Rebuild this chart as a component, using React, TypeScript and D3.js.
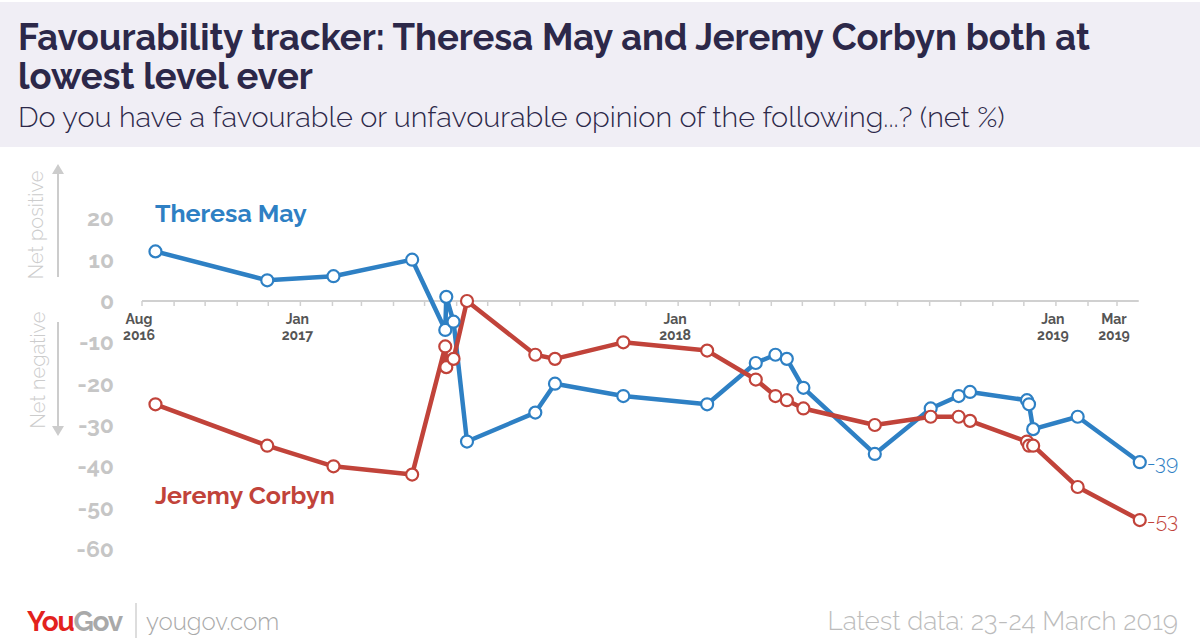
import { useEffect, useRef } from 'react';
import * as d3 from 'd3';

// survey dates (fieldwork end), shared by both series
const dates = [
  '2016-08-14', '2016-11-30', '2017-02-02', '2017-04-19', '2017-05-21',
  '2017-05-22', '2017-05-29', '2017-06-11', '2017-08-16', '2017-09-04',
  '2017-11-09', '2018-01-29', '2018-03-17', '2018-04-05', '2018-04-16',
  '2018-05-02', '2018-07-10', '2018-09-02', '2018-09-29', '2018-10-10',
  '2018-12-04', '2018-12-06', '2018-12-10', '2019-01-22', '2019-03-23',
];

const mayValues = [
  12, 5, 6, 10, -7, 1, -5, -34, -27, -20, -23, -25, -15, -13, -14, -21, -37, -26, -23, -22, -24,
  -25, -31, -28, -39,
];

const corbynValues = [
  -25, -35, -40, -42, -11, -16, -14, 0, -13, -14, -10, -12, -19, -23, -24, -26, -30, -28, -28, -29,
  -34, -35, -35, -45, -53,
];

const yTicks = [20, 10, 0, -10, -20, -30, -40, -50, -60];

const xLabels = [
  { date: '2016-08-01', month: 'Aug', year: '2016' },
  { date: '2017-01-01', month: 'Jan', year: '2017' },
  { date: '2018-01-01', month: 'Jan', year: '2018' },
  { date: '2019-01-01', month: 'Jan', year: '2019' },
  { date: '2019-03-01', month: 'Mar', year: '2019' },
];

const series = [
  { name: 'Theresa May', values: mayValues, color: '#2e80c4' },
  { name: 'Jeremy Corbyn', values: corbynValues, color: '#c1433a' },
];

const FONT = 'Raleway, Lato, "Open Sans", sans-serif';

export default function App() {
  const svgRef = useRef<SVGSVGElement>(null);

  useEffect(() => {
    document.body.style.margin = '0';
    if (!svgRef.current) return;
    const svg = d3.select(svgRef.current);
    svg.selectAll('*').remove();

    const parse = d3.timeParse('%Y-%m-%d');
    const xs = dates.map((d) => parse(d) as Date);

    const x = d3
      .scaleTime()
      .domain([parse('2016-08-01') as Date, parse('2019-03-01') as Date])
      .range([142, 1117]);
    const y = d3.scaleLinear().domain([0, -60]).range([301, 549]);

    // header band
    svg.append('rect').attr('x', 0).attr('y', 2).attr('width', 1200).attr('height', 145).attr('fill', '#f0eef5');
    const title = svg
      .append('text')
      .attr('font-family', FONT)
      .attr('font-weight', 700)
      .attr('font-size', 36.4)
      .attr('fill', '#2c2849');
    title.append('tspan').attr('x', 18).attr('y', 50).text('Favourability tracker: Theresa May and Jeremy Corbyn both at');
    title.append('tspan').attr('x', 18).attr('y', 89).text('lowest level ever');
    svg
      .append('text')
      .attr('x', 18)
      .attr('y', 127)
      .attr('font-family', FONT)
      .attr('font-weight', 300)
      .attr('font-size', 28.9)
      .attr('fill', '#2c2849')
      .text('Do you have a favourable or unfavourable opinion of the following...? (net %)');

    // side labels with arrows
    const side = svg.append('g').attr('fill', '#cccccc').attr('font-family', FONT).attr('font-weight', 300).attr('font-size', 20);
    side
      .append('text')
      .attr('transform', 'translate(43,225) rotate(-90)')
      .attr('text-anchor', 'middle')
      .text('Net positive');
    side
      .append('text')
      .attr('transform', 'translate(45,370) rotate(-90)')
      .attr('text-anchor', 'middle')
      .text('Net negative');
    svg.append('line').attr('x1', 58).attr('x2', 58).attr('y1', 277).attr('y2', 172).attr('stroke', '#cccccc').attr('stroke-width', 2);
    svg.append('path').attr('d', 'M52,174 L58,164 L64,174 Z').attr('fill', '#cccccc');
    svg.append('line').attr('x1', 58).attr('x2', 58).attr('y1', 322).attr('y2', 428).attr('stroke', '#cccccc').attr('stroke-width', 2);
    svg.append('path').attr('d', 'M52,426 L58,436 L64,426 Z').attr('fill', '#cccccc');

    // y labels
    svg
      .append('g')
      .selectAll('text')
      .data(yTicks)
      .join('text')
      .attr('x', 114)
      .attr('y', (d) => y(d))
      .attr('dy', '0.35em')
      .attr('text-anchor', 'end')
      .attr('font-family', FONT)
      .attr('font-weight', 700)
      .attr('font-size', 23)
      .attr('fill', '#c6c6c6')
      .text((d) => d);

    // zero axis with monthly ticks
    const axisEnd = parse('2019-03-22') as Date;
    const axis = svg.append('g').attr('transform', `translate(0,${y(0)})`);
    axis
      .append('line')
      .attr('x1', x(x.domain()[0]))
      .attr('x2', x(axisEnd))
      .attr('stroke', '#d0d0d0')
      .attr('stroke-width', 2);
    axis
      .selectAll('line.tick')
      .data(d3.timeMonth.range(x.domain()[0], axisEnd))
      .join('line')
      .attr('class', 'tick')
      .attr('x1', (d) => x(d))
      .attr('x2', (d) => x(d))
      .attr('y1', 0)
      .attr('y2', 5)
      .attr('stroke', '#d0d0d0')
      .attr('stroke-width', 1.5);

    const labStyle = (sel: d3.Selection<SVGTextElement, any, any, any>) =>
      sel
        .attr('text-anchor', 'middle')
        .attr('font-family', FONT)
        .attr('font-weight', 700)
        .attr('font-size', 14)
        .attr('fill', '#555555');
    axis
      .selectAll('text.month')
      .data(xLabels)
      .join('text')
      .attr('class', 'month')
      .attr('x', (d) => x(parse(d.date) as Date) - 3)
      .attr('y', 23)
      .call(labStyle)
      .text((d) => d.month);
    axis
      .selectAll('text.year')
      .data(xLabels)
      .join('text')
      .attr('class', 'year')
      .attr('x', (d) => x(parse(d.date) as Date) - 3)
      .attr('y', 39)
      .call(labStyle)
      .text((d) => d.year);

    // series lines
    const line = d3
      .line<number>()
      .x((_, i) => x(xs[i]))
      .y((d) => y(d));

    series.forEach((s) => {
      svg
        .append('path')
        .datum(s.values)
        .attr('d', line)
        .attr('fill', 'none')
        .attr('stroke', s.color)
        .attr('stroke-width', 4.5)
        .attr('stroke-linejoin', 'round');
    });
    series.forEach((s) => {
      svg
        .append('g')
        .selectAll('circle')
        .data(s.values)
        .join('circle')
        .attr('cx', (_, i) => x(xs[i]))
        .attr('cy', (d) => y(d))
        .attr('r', 6)
        .attr('fill', '#ffffff')
        .attr('stroke', s.color)
        .attr('stroke-width', 2.2);
      const last = s.values.length - 1;
      svg
        .append('text')
        .attr('x', x(xs[last]) + 7)
        .attr('y', y(s.values[last]))
        .attr('dy', '0.36em')
        .attr('font-family', FONT)
        .attr('font-weight', 300)
        .attr('font-size', 21)
        .attr('fill', s.color)
        .text(s.values[last]);
    });

    // series names
    svg
      .append('text')
      .attr('x', 155)
      .attr('y', 222)
      .attr('font-family', FONT)
      .attr('font-weight', 700)
      .attr('font-size', 25)
      .attr('fill', series[0].color)
      .text(series[0].name);
    svg
      .append('text')
      .attr('x', 155)
      .attr('y', 504)
      .attr('font-family', FONT)
      .attr('font-weight', 700)
      .attr('font-size', 25)
      .attr('fill', series[1].color)
      .text(series[1].name);

    // footer
    const logo = svg
      .append('text')
      .attr('x', 27)
      .attr('y', 631)
      .attr('font-family', FONT)
      .attr('font-weight', 700)
      .attr('font-size', 28)
      .attr('letter-spacing', -1.2);
    logo.append('tspan').attr('fill', '#e3221d').text('You');
    logo.append('tspan').attr('fill', '#a9a9a9').text('Gov');
    svg.append('line').attr('x1', 136).attr('x2', 136).attr('y1', 603).attr('y2', 638).attr('stroke', '#bbbbbb').attr('stroke-width', 1);
    svg
      .append('text')
      .attr('x', 146)
      .attr('y', 630)
      .attr('font-family', FONT)
      .attr('font-weight', 300)
      .attr('font-size', 24)
      .attr('fill', '#a9a9a9')
      .text('yougov.com');
    svg
      .append('text')
      .attr('x', 1178)
      .attr('y', 630)
      .attr('text-anchor', 'end')
      .attr('font-family', FONT)
      .attr('font-weight', 300)
      .attr('font-size', 26)
      .attr('fill', '#bcbcbc')
      .text('Latest data: 23-24 March 2019');
  }, []);

  return <svg ref={svgRef} width={1200} height={644} style={{ display: 'block', background: '#ffffff' }} />;
}
